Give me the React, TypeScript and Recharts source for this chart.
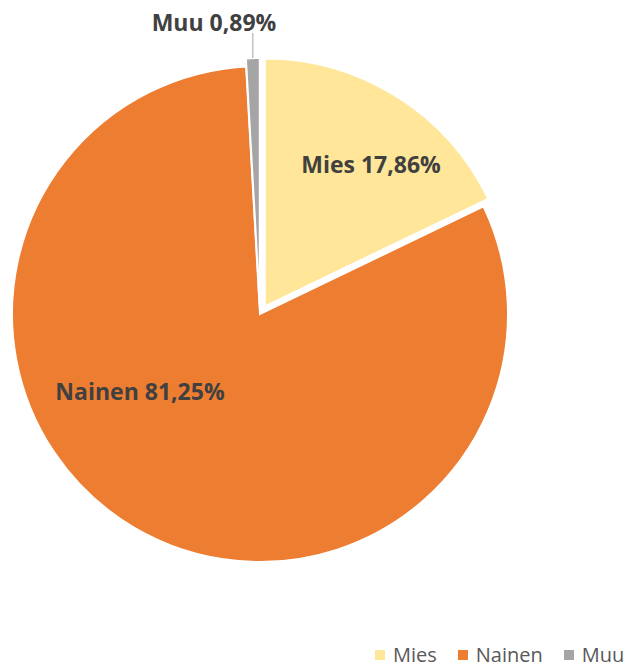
import { Cell, Legend, Pie, PieChart } from "recharts";

const categories = ["Mies", "Nainen", "Muu"];
const shares = [17.86, 81.25, 0.89];

const colors = ["#FFE699", "#ED7D31", "#A5A5A5"];
// how far each slice is pulled out of the pie, px
const explode = [9, 0, 8];
// label centre relative to the pie centre, px
const labelOffsets: [number, number][] = [
  [111, -150],
  [-120, 77],
  [-46, -292],
];

const CX = 260;
const CY = 314;
const R = 248;

const data = categories.map((name, i) => ({ name, value: shares[i] }));
const total = shares.reduce((a, b) => a + b, 0);

// mid angle of each slice, radians clockwise from 12 o'clock
const midAngles = shares.map((v, i) => {
  const before = shares.slice(0, i).reduce((a, b) => a + b, 0);
  return ((before + v / 2) / total) * 2 * Math.PI;
});

function fmt(v: number) {
  return v.toFixed(2).replace(".", ",") + "%";
}

function pieCenter(i: number) {
  return {
    x: CX + explode[i] * Math.sin(midAngles[i]),
    y: CY - explode[i] * Math.cos(midAngles[i]),
  };
}

function renderLabel(own: number) {
  return (props: any) => {
    if (props.index !== own) return null;
    const [dx, dy] = labelOffsets[own];
    const tx = CX + dx;
    const ty = CY + dy;
    const c = pieCenter(own);
    const px = c.x + R * Math.sin(midAngles[own]);
    const py = c.y - R * Math.cos(midAngles[own]);
    const outside = Math.hypot(dx, dy) > R;
    return (
      <g>
        {outside && (
          <line x1={px} y1={ty + 11} x2={px} y2={py} stroke="#A5A5A5" strokeWidth={1} />
        )}
        <text
          x={tx}
          y={ty}
          textAnchor="middle"
          dominantBaseline="central"
          fill="#404040"
          fontFamily="'Open Sans', sans-serif"
          fontWeight={700}
          fontSize={23}
        >
          {`${categories[own]} ${fmt(shares[own])}`}
        </text>
      </g>
    );
  };
}

function LegendRow() {
  return (
    <div
      style={{
        display: "flex",
        alignItems: "center",
        fontFamily: "'Open Sans', sans-serif",
        fontSize: 20,
        lineHeight: "20px",
        color: "#595959",
      }}
    >
      {categories.map((name, i) => (
        <div key={name} style={{ display: "flex", alignItems: "center", marginRight: 21 }}>
          <span
            style={{
              display: "inline-block",
              width: 10,
              height: 10,
              background: colors[i],
              marginRight: 8,
            }}
          />
          <span>{name}</span>
        </div>
      ))}
    </div>
  );
}

export default function App() {
  return (
    <div style={{ position: "absolute", left: 0, top: 0, background: "#fff" }}>
      <PieChart width={633} height={667} margin={{ top: 0, right: 0, bottom: 0, left: 0 }}>
        {categories.map((name, own) => {
          const c = pieCenter(own);
          return (
            <Pie
              key={name}
              data={data}
              dataKey="value"
              nameKey="name"
              cx={c.x}
              cy={c.y}
              outerRadius={R}
              startAngle={90}
              endAngle={-270}
              label={renderLabel(own)}
              labelLine={false}
              isAnimationActive={false}
            >
              {data.map((d, i) =>
                i === own ? (
                  <Cell key={d.name} fill={colors[i]} stroke="#fff" strokeWidth={2} />
                ) : (
                  <Cell key={d.name} fill="none" stroke="none" />
                )
              )}
            </Pie>
          );
        })}
        <Legend
          content={() => <LegendRow />}
          wrapperStyle={{ position: "absolute", left: 375, top: 645, width: 258, height: 20 }}
        />
      </PieChart>
    </div>
  );
}
